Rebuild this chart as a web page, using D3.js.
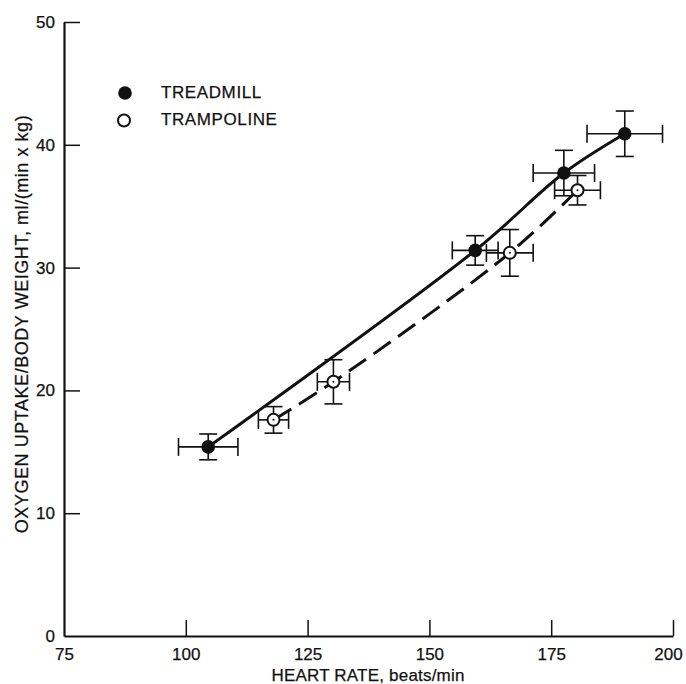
<!DOCTYPE html>
<html>
<head>
<meta charset="utf-8">
<script src="https://cdn.jsdelivr.net/npm/d3@7"></script>
<style>
  body { margin: 0; background: #fff; }
  svg text { font-family: "Liberation Sans", Arial, Helvetica, sans-serif; fill: #111; stroke: #111; stroke-width: 0.25px; }
</style>
</head>
<body>
<svg id="chart" width="686" height="684"></svg>
<script>
// values
var treadmillHR =      [104.6, 159.4, 177.6, 190.1]
var treadmillVO2 =     [15.4, 31.4, 37.7, 40.9]
var treadmillHRErr =   [6.1, 4.7, 6.3, 7.75]
var treadmillVO2Err =  [1.05, 1.2, 1.85, 1.85]

var trampolineHR =     [118.0, 130.3, 166.5, 180.4]
var trampolineVO2 =    [17.6, 20.7, 31.2, 36.3]
var trampolineHRErr =  [3.1, 3.3, 4.8, 4.7]
var trampolineVO2Err = [1.08, 1.8, 1.9, 1.2]

var xTicks = [75, 100, 125, 150, 175, 200]
var yTicks = [0, 10, 20, 30, 40, 50]
var legendNames = ['TREADMILL', 'TRAMPOLINE']

var ink = '#111'
var svg = d3.select('#chart')

var x = d3.scaleLinear().domain([75, 200]).range([64, 673])
var y = d3.scaleLinear().domain([0, 50]).range([636, 22])

const toRows = (hr, vo2, hrErr, vo2Err) => hr.map((h, i) => ({
    hr: h, vo2: vo2[i], hrErr: hrErr[i], vo2Err: vo2Err[i]
}))
var treadmill = toRows(treadmillHR, treadmillVO2, treadmillHRErr, treadmillVO2Err)
var trampoline = toRows(trampolineHR, trampolineVO2, trampolineHRErr, trampolineVO2Err)

// axes
var xAxis = svg.append('g')
    .attr('transform', `translate(0,${y(0)})`)
    .call(d3.axisBottom(x).tickValues(xTicks).tickSizeInner(-16).tickSizeOuter(0).tickPadding(12))
var yAxis = svg.append('g')
    .attr('transform', `translate(${x(75)},0)`)
    .call(d3.axisLeft(y).tickValues(yTicks).tickSizeInner(-16).tickSizeOuter(0).tickPadding(9))

;[xAxis, yAxis].forEach(g => {
    g.select('.domain').attr('stroke', ink).attr('stroke-width', 2.2)
    g.selectAll('.tick line').attr('stroke', ink).attr('stroke-width', 1.5)
    g.selectAll('.tick text')
        .attr('fill', ink)
        .style('font-size', '17px')
        .style('font-family', '"Liberation Sans", Arial, sans-serif')
})
// hide the 0/75 ticks sitting on the other axis
xAxis.selectAll('.tick').filter(d => d === 75).select('line').remove()
yAxis.selectAll('.tick').filter(d => d === 0).select('line').remove()
// last label sits a little inside the page edge
xAxis.selectAll('.tick').filter(d => d === 200).select('text').attr('dx', -5)

svg.append('text')
    .attr('x', 368).attr('y', 681)
    .attr('text-anchor', 'middle')
    .style('font-size', '17px')
    .style('letter-spacing', '0.2px')
    .text('HEART RATE, beats/min')

svg.append('text')
    .attr('transform', 'translate(28,324) rotate(-90)')
    .attr('text-anchor', 'middle')
    .style('font-size', '18px')
    .style('letter-spacing', '0.55px')
    .text('OXYGEN UPTAKE/BODY WEIGHT, ml/(min x kg)')

// fitted curves
var line = d3.line()
    .x(d => x(d.hr))
    .y(d => y(d.vo2))
    .curve(d3.curveCatmullRom.alpha(0.5))

svg.append('path')
    .datum(treadmill)
    .attr('d', line)
    .attr('fill', 'none')
    .attr('stroke', ink)
    .attr('stroke-width', 3)

svg.append('path')
    .datum(trampoline)
    .attr('d', line)
    .attr('fill', 'none')
    .attr('stroke', ink)
    .attr('stroke-width', 3)
    .attr('stroke-dasharray', '21,9')

// error bars
function errorBars(data) {
    var g = svg.append('g').attr('stroke', ink).attr('stroke-width', 1.6).attr('fill', 'none')
    var cap = 9
    data.forEach(d => {
        var cx = x(d.hr), cy = y(d.vo2)
        var x0 = x(d.hr - d.hrErr), x1 = x(d.hr + d.hrErr)
        var y0 = y(d.vo2 - d.vo2Err), y1 = y(d.vo2 + d.vo2Err)
        g.append('line').attr('x1', x0).attr('x2', x1).attr('y1', cy).attr('y2', cy)
        g.append('line').attr('x1', x0).attr('x2', x0).attr('y1', cy - cap).attr('y2', cy + cap)
        g.append('line').attr('x1', x1).attr('x2', x1).attr('y1', cy - cap).attr('y2', cy + cap)
        g.append('line').attr('x1', cx).attr('x2', cx).attr('y1', y0).attr('y2', y1)
        g.append('line').attr('x1', cx - cap).attr('x2', cx + cap).attr('y1', y0).attr('y2', y0)
        g.append('line').attr('x1', cx - cap).attr('x2', cx + cap).attr('y1', y1).attr('y2', y1)
    })
}
errorBars(treadmill)
errorBars(trampoline)

// markers
svg.append('g').selectAll('circle')
    .data(treadmill)
    .join('circle')
    .attr('cx', d => x(d.hr)).attr('cy', d => y(d.vo2))
    .attr('r', 6.8)
    .attr('fill', ink)

var open = svg.append('g').selectAll('g')
    .data(trampoline)
    .join('g')
    .attr('transform', d => `translate(${x(d.hr)},${y(d.vo2)})`)
open.append('circle').attr('r', 6).attr('fill', '#fff').attr('stroke', ink).attr('stroke-width', 2)
open.append('circle').attr('r', 1).attr('fill', ink)

// legend
var legend = svg.append('g')
legend.append('circle').attr('cx', 125).attr('cy', 93).attr('r', 6.8).attr('fill', ink)
legend.append('circle').attr('cx', 124).attr('cy', 120.5).attr('r', 6).attr('fill', '#fff')
    .attr('stroke', ink).attr('stroke-width', 2)
legend.selectAll('text')
    .data(legendNames)
    .join('text')
    .attr('x', 161)
    .attr('y', (d, i) => 97.5 + i * 27.5)
    .style('font-size', '17px')
    .style('letter-spacing', '0.6px')
    .text(d => d)
</script>
</body>
</html>
